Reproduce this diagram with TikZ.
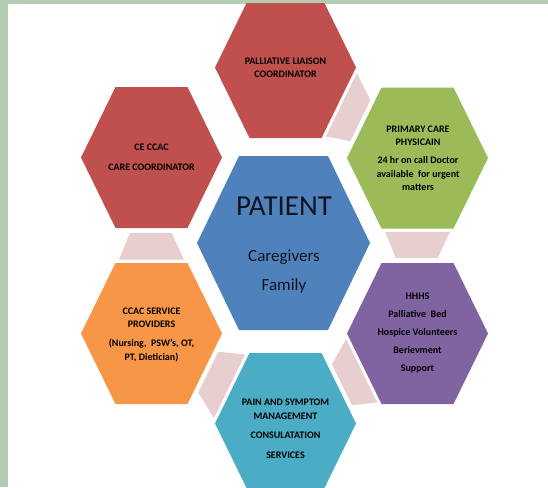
\documentclass[tikz,border=0pt]{standalone}
\usepackage{fontspec}
\setmainfont{Carlito}
\usetikzlibrary{calc}

\definecolor{framegreen}{RGB}{178,205,178}
\definecolor{hexred}{HTML}{C0504D}
\definecolor{hexgreen}{HTML}{9BBB59}
\definecolor{hexblue}{HTML}{4F81BD}
\definecolor{hexpurple}{HTML}{8064A2}
\definecolor{hexaqua}{HTML}{4BACC6}
\definecolor{hexorange}{HTML}{F79646}
\definecolor{linkpink}{RGB}{231,207,208}
\definecolor{patienttext}{RGB}{20,20,30}

% hexagon: name, cx, cy, half width, half edge, half height, colour
\newcommand{\hexcell}[7]{%
  \coordinate (#1-e)  at (#2+#4,#3);
  \coordinate (#1-ne) at (#2+#5,#3-#6);
  \coordinate (#1-nw) at (#2-#5,#3-#6);
  \coordinate (#1-w)  at (#2-#4,#3);
  \coordinate (#1-sw) at (#2-#5,#3+#6);
  \coordinate (#1-se) at (#2+#5,#3+#6);
  \fill[#7] (#1-e) -- (#1-ne) -- (#1-nw) -- (#1-w) -- (#1-sw) -- (#1-se) -- cycle;
}
% link: source edge #1--#2, target corner #3 facing #1
\newcommand{\hexlink}[3]{%
  \fill[linkpink]
    ($(#1)!0.05!(#2) + 0.1*(#3) - 0.1*(#1)$) --
    ($(#1)!0.95!(#2) + 0.1*(#3) - 0.1*(#1)$) --
    ($(#1)!0.78!(#2) + 0.86*(#3) - 0.86*(#1)$) --
    ($(#1)!0.2!(#2) + 0.86*(#3) - 0.86*(#1)$) -- cycle;
}

\begin{document}
\begin{tikzpicture}[x=1pt,y=-1pt,
    hexlabel/.style={align=center,inner sep=0pt,text=black,
      font=\bfseries\fontsize{10}{13.5}\selectfont}]

  \useasboundingbox (0,0) rectangle (548,487);
  \fill[framegreen] (0,0) rectangle (548,487);
  \fill[white] (8,4) rectangle (548,487);

  \begin{scope}
    \clip (8,4) rectangle (548,487);
    \hexcell{liaison}{285.5}{67.5}{70.5}{36}{70.5}{hexred}
    \hexcell{ccac}{151.5}{157.5}{70.5}{36}{70.5}{hexred}
    \hexcell{primary}{417.5}{158}{70.5}{36}{70.5}{hexgreen}
    \hexcell{patient}{283.5}{243}{86.5}{44.5}{87}{hexblue}
    \hexcell{provider}{151.5}{333.5}{70.5}{36}{70.5}{hexorange}
    \hexcell{hhhs}{417.5}{333.5}{70.5}{36}{70.5}{hexpurple}
    \hexcell{pain}{285.5}{423.5}{70.5}{36}{70.5}{hexaqua}

    \hexlink{liaison-se}{liaison-e}{primary-w}
    \hexlink{primary-sw}{primary-se}{hhhs-nw}
    \hexlink{hhhs-w}{hhhs-sw}{pain-ne}
    \hexlink{pain-w}{pain-nw}{provider-se}
    \hexlink{provider-nw}{provider-ne}{ccac-sw}
  \end{scope}

  \node[hexlabel] (liaisonlabel) at (285.5,68) {PALLIATIVE LIAISON\\COORDINATOR};
  \node[hexlabel] (ccaclabel) at (151.5,157.5) {CE CCAC\\[6.5pt]CARE COORDINATOR};
  \node[hexlabel] (primarylabel) at (418,158.5)
    {PRIMARY CARE\\PHYSICAIN\\[4.5pt]24 hr on call Doctor\\available\ \ for urgent\\matters};
  \node[align=center,inner sep=0pt,text=patienttext,
        font=\fontsize{17}{29}\selectfont] (patientlabel) at (284,245)
    {{\fontsize{29}{30}\selectfont PATIENT}\\[17pt]Caregivers\\Family};
  \node[hexlabel] (providerlabel) at (151.5,334.5)
    {CCAC SERVICE\\PROVIDERS\\[5.5pt](Nursing,\ \ PSW's, OT,\\PT, Dietician)};
  \node[hexlabel] (hhhslabel) at (417.5,333.5)
    {HHHS\\[4.5pt]Palliative\ \ Bed\\[4.5pt]Hospice\ Volunteers\\[4.5pt]Berievment\\[4.5pt]Support};
  \node[hexlabel] (painlabel) at (285.5,428.5)
    {PAIN AND SYMPTOM\\MANAGEMENT\\[5.5pt]CONSULATATION\\[6.5pt]SERVICES};

\end{tikzpicture}
\end{document}
